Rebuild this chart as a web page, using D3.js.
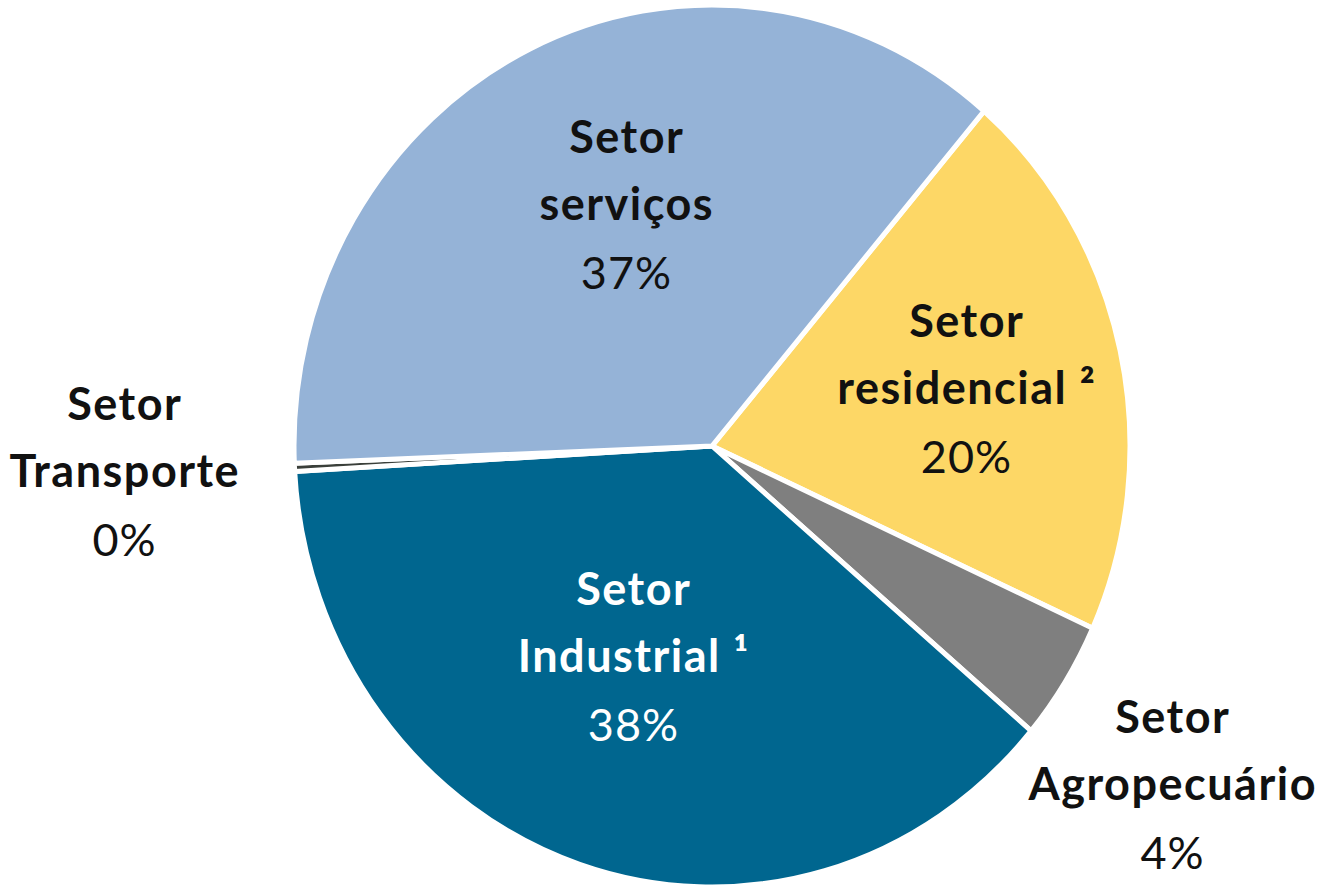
<!DOCTYPE html>
<html>
<head>
<meta charset="utf-8">
<script src="https://cdn.jsdelivr.net/npm/d3@7"></script>
<style>
  html, body { margin: 0; padding: 0; background: #fff; }
  svg { display: block; }
</style>
</head>
<body>
<svg id="chart" width="1319" height="888"></svg>
<script>
// Data (order as drawn clockwise, starting from the serviços/residencial boundary)
const categories = ["Setor residencial", "Setor Agropecuário", "Setor Industrial", "Setor Transporte", "Setor serviços"];
const labelLines = [
  ["Setor", "residencial ²"],
  ["Setor", "Agropecuário"],
  ["Setor", "Industrial ¹"],
  ["Setor", "Transporte"],
  ["Setor", "serviços"]
];
const values = [20.5, 4.4, 37.9, 0.3, 36.9];
const percentLabels = ["20%", "4%", "38%", "0%", "37%"];
const colors = ["#FDD766", "#7F7F7F", "#00668F", "#3A3F3A", "#95B3D7"];
const textColors = ["#111", "#111", "#fff", "#111", "#111"];
// label anchor positions (pixels)
const labelPos = [
  [966, 337], [1172, 733], [633, 605], [124, 420], [626, 153]
];

const svg = d3.select("#chart");
const cx = 712, cy = 446, r = 418, sy = 441 / 418;
const startDeg = 40.6;

const pie = d3.pie().sort(null).value(d => d)
  .startAngle(startDeg * Math.PI / 180)
  .endAngle(startDeg * Math.PI / 180 + 2 * Math.PI);
const arc = d3.arc().innerRadius(0).outerRadius(r);

const g = svg.append("g").attr("transform", `translate(${cx},${cy}) scale(1,${sy})`);
g.selectAll("path").data(pie(values)).join("path")
  .attr("d", arc)
  .attr("fill", (d, i) => colors[i])
  .attr("stroke", "#fff")
  .attr("stroke-width", 5)
  .attr("stroke-linejoin", "round")
  .attr("vector-effect", "non-scaling-stroke");

const lineGap = 67;
const labels = svg.append("g");
categories.forEach((c, i) => {
  const [x, y] = labelPos[i];
  const t = labels.append("text")
    .attr("x", x).attr("y", y)
    .attr("text-anchor", "middle")
    .attr("fill", textColors[i])
    .style("font-family", "Lato, 'Open Sans', sans-serif")
    .style("font-size", "45px");
  labelLines[i].forEach((ln, k) => {
    t.append("tspan").attr("x", x + 0.75).attr("y", y + k * lineGap)
      .style("font-weight", "bold")
      .style("letter-spacing", "1.5px")
      .text(ln);
  });
  t.append("tspan").attr("x", x + 0.5).attr("y", y + 2 * lineGap + 2)
    .style("font-weight", "normal")
    .style("letter-spacing", "1px")
    .text(percentLabels[i]);
});
</script>
</body>
</html>
